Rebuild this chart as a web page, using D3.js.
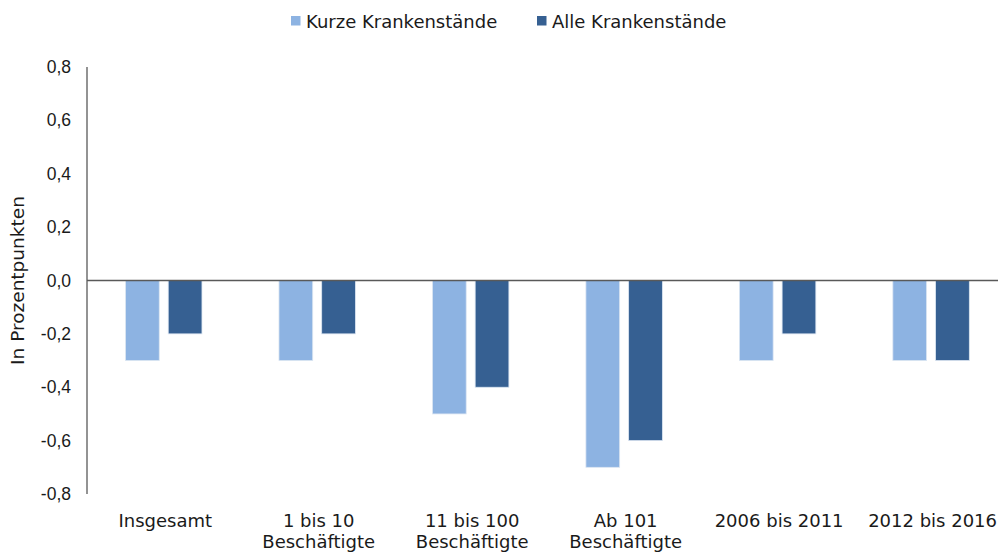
<!DOCTYPE html>
<html>
<head>
<meta charset="utf-8">
<script src="https://cdn.jsdelivr.net/npm/d3@7"></script>
<style>
  body { margin: 0; background: #fff; }
  svg { display: block; font-family: "Century Gothic", "URW Gothic", "DejaVu Sans", sans-serif; }
</style>
</head>
<body>
<svg id="chart" width="998" height="553"></svg>
<script>
// Change in sick-leave rates, in percentage points
const categories = ["Insgesamt", "1 bis 10\nBeschäftigte", "11 bis 100\nBeschäftigte", "Ab 101\nBeschäftigte", "2006 bis 2011", "2012 bis 2016"];
const seriesNames = ["Kurze Krankenstände", "Alle Krankenstände"];
const kurze = [-0.3, -0.3, -0.5, -0.7, -0.3, -0.3];
const alle = [-0.2, -0.2, -0.4, -0.6, -0.2, -0.3];
const yTicks = [0.8, 0.6, 0.4, 0.2, 0.0, -0.2, -0.4, -0.6, -0.8];
const colors = ["#8DB3E2", "#366092"];

const svg = d3.select("#chart");
const plotLeft = 87, plotTop = 67, plotBottom = 494;
const step = 153.47;
const fontSize = 18;

const x = d3.scaleBand().domain(categories).range([plotLeft, plotLeft + step * categories.length]).paddingInner(0).paddingOuter(0);
const inner = d3.scaleBand().domain(seriesNames).range([38.5, step - 38.5]).paddingInner(0.21);
const y = d3.scaleLinear().domain([-0.8, 0.8]).range([plotBottom, plotTop]);

const textColor = "#1a1a1a";

// y axis tick labels
const yAxis = d3.axisLeft(y).tickValues(yTicks).tickSize(0).tickPadding(16)
  .tickFormat(d => d3.format(".1f")(d).replace(".", ",").replace("−", "-"));
const ya = svg.append("g").attr("transform", `translate(${plotLeft},0)`).call(yAxis);
ya.select(".domain").remove();
ya.selectAll("text").attr("font-size", 17.5).attr("fill", textColor).attr("font-family", null);

// bars
const data = categories.map((c, i) => ({ c, vals: [kurze[i], alle[i]] }));
const groups = svg.append("g").selectAll("g").data(data).join("g")
  .attr("transform", d => `translate(${x(d.c)},0)`);
groups.selectAll("rect").data(d => d.vals.map((v, j) => ({ v, s: seriesNames[j], j })))
  .join("rect")
  .attr("x", d => inner(d.s))
  .attr("width", inner.bandwidth())
  .attr("y", d => y(Math.max(0, d.v)))
  .attr("height", d => Math.abs(y(d.v) - y(0)))
  .attr("fill", d => colors[d.j])
  .attr("stroke", "#dce6f2").attr("stroke-width", 0.8);

// vertical axis line and zero line
svg.append("line").attr("x1", plotLeft).attr("x2", plotLeft).attr("y1", y(0.8)).attr("y2", y(-0.8))
  .attr("stroke", "#595959").attr("stroke-width", 1.3);
svg.append("line").attr("x1", plotLeft).attr("x2", 998).attr("y1", y(0)).attr("y2", y(0))
  .attr("stroke", "#595959").attr("stroke-width", 1.3);

// category labels
const xl = svg.append("g");
categories.forEach(c => {
  const lines = c.split("\n");
  const cx = x(c) + step / 2 + 1.5;
  const t = xl.append("text").attr("text-anchor", "middle").attr("font-size", fontSize).attr("fill", textColor)
    .attr("x", cx).attr("y", 527);
  lines.forEach((ln, k) => t.append("tspan").attr("x", cx).attr("dy", k === 0 ? 0 : 21).text(ln));
});

// axis title
svg.append("text").attr("transform", `translate(24,${y(0)}) rotate(-90)`).attr("text-anchor", "middle")
  .attr("font-size", 18.5).attr("fill", textColor).text("In Prozentpunkten");

// legend
const legendX = [291, 537];
seriesNames.forEach((s, i) => {
  svg.append("rect").attr("x", legendX[i]).attr("y", 16).attr("width", 9.5).attr("height", 9.5).attr("fill", colors[i]);
  svg.append("text").attr("x", legendX[i] + 15).attr("y", 27.5).attr("font-size", fontSize).attr("fill", textColor).text(s);
});
</script>
</body>
</html>
